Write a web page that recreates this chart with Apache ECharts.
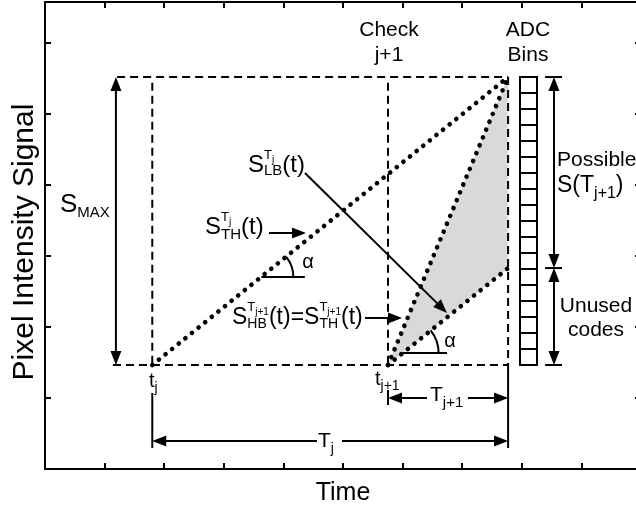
<!DOCTYPE html>
<html><head><meta charset="utf-8">
<script src="https://cdn.jsdelivr.net/npm/echarts@6/dist/echarts.min.js"></script>
<style>html,body{margin:0;padding:0;background:#fff}#c{width:636px;height:508px}</style>
</head><body><div id="c"></div>
<script>
// ---------- axis frame (ticks only, no labels) ----------
const xMin = 0, xMax = 10, xInterval = 1;
const yMin = 0, yMax = 6.577, yInterval = 1;
const xAxisName = 'Time';
const yAxisName = 'Pixel Intensity Signal';

// ---------- key times / signal levels (data units) ----------
const tJ = 1.80, tJ1 = 5.755, tEnd = 7.77;
const sLow = 1.465, sHigh = 5.52, sSplit = 2.83;
const adcLeft = 7.97, adcRight = 8.255, adcBinCount = 18;
const sideArrowX = 8.54, sideBarL = 8.39, sideBarR = 8.675;
const smaxX = 1.19;

// dotted signal ramps [x1,y1,x2,y2]
const dottedSegments = [
  [tJ, sLow, tEnd, sHigh],
  [tJ1, sLow, tEnd, sHigh],
  [tJ1, sLow, tEnd, sSplit]
];
// shaded region between ramps
const shadedRegion = [[tJ1, sLow], [tEnd, sHigh], [tEnd, sSplit]];

const dashedSegments = [
  [1.14, sLow, tEnd, sLow],
  [1.21, sHigh, tEnd, sHigh],
  [tJ, 5.44, tJ, sLow],
  [tJ1, 5.44, tJ1, sLow],
  [tEnd, sHigh, tEnd, sLow]
];
const solidSegments = [
  [tJ, 1.07, tJ, 0.296],
  [tEnd, sLow, tEnd, 0.296],
  [tJ1, 1.113, tJ1, 0.901],
  [3.63, 2.704, 4.36, 2.704],
  [6.0, 1.634, 6.745, 1.634],
  [sideBarL, sHigh, sideBarR, sHigh],
  [sideBarL, sSplit, sideBarR, sSplit],
  [sideBarL, sLow, sideBarR, sLow]
];
const arrowSegments = [
  [4.362, 4.169, 6.745, 2.197],
  [3.758, 3.324, 4.379, 3.324],
  [5.369, 2.127, 5.990, 2.127],
  [4.564, 0.394, tJ, 0.394],
  [4.983, 0.394, tEnd, 0.394],
  [6.409, 1.0, tJ1, 1.0],
  [7.097, 1.0, tEnd, 1.0]
];
const doubleArrowSegments = [
  [smaxX, sLow, smaxX, sHigh],
  [sideArrowX, sSplit, sideArrowX, sHigh],
  [sideArrowX, sLow, sideArrowX, sSplit]
];
// angle marks: vertex [x,y] and the ramp index they measure
const alphaVertexX = [3.63, 6.0];
const alphaVertexY = [2.704, 1.634];
const alphaRamp = [0, 2];

// text annotations: anchor x, anchor y (baseline)
const labelX = [5.772, 5.772, 8.104, 8.104, 8.591, 8.591, 9.245, 9.245, 1.745, 5.537, 4.58, 6.46, 0.25, 3.406, 2.685, 3.138, 4.413, 6.795];
const labelY = [6.085, 5.732, 6.085, 5.732, 4.254, 3.887, 2.197, 1.859, 1.155, 1.183, 0.296, 0.944, 3.606, 4.169, 3.296, 2.028, 2.831, 1.718];

// ---------- styling ----------
const FAM = "'Liberation Sans', Arial, Helvetica, sans-serif";
const sup = (a, b) => [{t: a, s: 13, dy: -14}, {t: b, s: 10, dy: -10}];
const labelFormat = [
  {c: 1, k: [{t: 'Check', s: 21}]},
  {c: 1, k: [{t: 'j+1', s: 21}]},
  {c: 1, k: [{t: 'ADC', s: 21}]},
  {c: 1, k: [{t: 'Bins', s: 21}]},
  {c: 0, k: [{t: 'Possible', s: 21}]},
  {c: 0, k: [{t: 'S(T', s: 23}, {t: 'j+1', s: 16, dy: 5}, {t: ')', s: 23}]},
  {c: 1, k: [{t: 'Unused', s: 21}]},
  {c: 1, k: [{t: 'codes', s: 21}]},
  {c: 0, k: [{t: 't', s: 20}, {t: 'j', s: 14, dy: 5}]},
  {c: 0, k: [{t: 't', s: 20}, {t: 'j+1', s: 14, dy: 5}]},
  {c: 0, k: [{t: 'T', s: 21}, {t: 'j', s: 14, dy: 5}]},
  {c: 0, k: [{t: 'T', s: 21}, {t: 'j+1', s: 15, dy: 5}]},
  {c: 0, k: [{t: 'S', s: 26}, {t: 'MAX', s: 15, dy: 4}]},
  {c: 0, k: [{t: 'S', s: 24}, {stack: [[{t: 'LB', s: 15, dy: 2}], sup('T', 'j')]}, {t: '(t)', s: 24}]},
  {c: 0, k: [{t: 'S', s: 24}, {stack: [[{t: 'TH', s: 15, dy: 4}], sup('T', 'j')]}, {t: '(t)', s: 24}]},
  {c: 0, k: [{t: 'S', s: 23}, {stack: [[{t: 'HB', s: 14, dy: 3}], sup('T', 'j+1')]}, {t: '(t)=S', s: 23},
             {stack: [[{t: 'TH', s: 14, dy: 3}], sup('T', 'j+1')]}, {t: '(t)', s: 23}]},
  {c: 1, k: [{t: 'α', s: 20}]},
  {c: 1, k: [{t: 'α', s: 20}]}
];

const mctx = document.createElement('canvas').getContext('2d');
function tw(t, s) { mctx.font = s + 'px ' + FAM; return mctx.measureText(t).width; }
function layout(seq, x0, out) {
  let x = x0;
  for (const tk of seq) {
    if (tk.stack) {
      let mx = x;
      for (const sub of tk.stack) { const e = layout(sub, x, out); if (e > mx) mx = e; }
      x = mx;
    } else {
      out.push({t: tk.t, s: tk.s, x: x, dy: tk.dy || 0});
      x += tw(tk.t, tk.s);
    }
  }
  return x;
}

const BLACK = '#000';
function head(tip, from, len, half) {
  const dx = tip[0] - from[0], dy = tip[1] - from[1];
  const L = Math.hypot(dx, dy) || 1, ux = dx / L, uy = dy / L;
  const bx = tip[0] - ux * len, by = tip[1] - uy * len;
  return {type: 'polygon', shape: {points: [tip, [bx - uy * half, by + ux * half], [bx + uy * half, by - ux * half]]}, style: {fill: BLACK}};
}
function shorten(p, q, d) {
  const dx = q[0] - p[0], dy = q[1] - p[1], L = Math.hypot(dx, dy) || 1;
  return [p[0] + dx / L * d, p[1] + dy / L * d];
}
function segSeries(name, data, kind, z) {
  return {
    type: 'custom', name, coordinateSystem: 'cartesian2d', data, z: z, clip: false, silent: true, animation: false,
    encode: {x: [0, 2], y: [1, 3]},
    renderItem(params, api) {
      let p1 = api.coord([api.value(0), api.value(1)]);
      let p2 = api.coord([api.value(2), api.value(3)]);
      const children = [];
      let a = p1, b = p2;
      const style = {stroke: BLACK, lineWidth: 2, fill: null};
      if (kind === 'dashed') style.lineDash = [8, 5];
      if (kind === 'dotted') { style.lineDash = [0.1, 8.4]; style.lineWidth = 4.6; style.lineCap = 'round'; }
      if (kind === 'arrow' || kind === 'double') { b = shorten(p2, p1, 8); children.push(head(p2, p1, 14, 5.5)); }
      if (kind === 'double') { a = shorten(p1, p2, 8); children.push(head(p1, p2, 14, 5.5)); }
      children.unshift({type: 'line', shape: {x1: a[0], y1: a[1], x2: b[0], y2: b[1]}, style});
      return {type: 'group', children};
    }
  };
}

const binData = [];
for (let i = 0; i < adcBinCount; i++) binData.push([adcLeft, sLow + (sHigh - sLow) * i / adcBinCount, adcRight, sLow + (sHigh - sLow) * (i + 1) / adcBinCount]);

const chart = echarts.init(document.getElementById('c'), null, {renderer: 'canvas'});
const axisCommon = {
  type: 'value', axisLine: {show: true, onZero: false, lineStyle: {color: BLACK, width: 2}},
  axisTick: {show: true, inside: true, length: 6, lineStyle: {color: BLACK, width: 2}},
  axisLabel: {show: false}, splitLine: {show: false}
};
chart.setOption({
  backgroundColor: '#fff',
  animation: false,
  grid: {left: 45, top: 2, width: 596, height: 467, containLabel: false, outerBoundsMode: 'none'},
  xAxis: [
    Object.assign({}, axisCommon, {position: 'bottom', min: xMin, max: xMax, interval: xInterval,
      name: xAxisName, nameLocation: 'middle', nameGap: 12,
      nameTextStyle: {fontSize: 25, color: BLACK, fontFamily: FAM}}),
    Object.assign({}, axisCommon, {position: 'top', min: xMin, max: xMax, interval: xInterval})
  ],
  yAxis: [
    Object.assign({}, axisCommon, {position: 'left', min: yMin, max: yMax, interval: yInterval,
      name: yAxisName, nameLocation: 'middle', nameGap: 5,
      nameTextStyle: {fontSize: 30, color: BLACK, fontFamily: FAM, padding: [0, 13, 0, 0]}}),
    Object.assign({}, axisCommon, {position: 'right', min: yMin, max: yMax, interval: yInterval})
  ],
  series: [
    {
      type: 'custom', name: 'shade', coordinateSystem: 'cartesian2d', data: [0], z: 1, clip: false, silent: true,
      encode: {x: 0},
      renderItem(params, api) {
        return {type: 'polygon', shape: {points: shadedRegion.map(p => api.coord(p))}, style: {fill: '#d9d9d9'}};
      }
    },
    segSeries('dotted', dottedSegments, 'dotted', 3),
    segSeries('dashed', dashedSegments, 'dashed', 2),
    segSeries('solid', solidSegments, 'solid', 4),
    segSeries('arrow', arrowSegments, 'arrow', 4),
    segSeries('double', doubleArrowSegments, 'double', 4),
    {
      type: 'custom', name: 'adc bins', coordinateSystem: 'cartesian2d', data: binData, z: 4, clip: false, silent: true,
      encode: {x: [0, 2], y: [1, 3]},
      renderItem(params, api) {
        const p1 = api.coord([api.value(0), api.value(1)]);
        const p2 = api.coord([api.value(2), api.value(3)]);
        return {type: 'rect', shape: {x: p1[0], y: p2[1], width: p2[0] - p1[0], height: p1[1] - p2[1]},
          style: {fill: '#fff', stroke: BLACK, lineWidth: 2}};
      }
    },
    {
      type: 'custom', name: 'alpha', coordinateSystem: 'cartesian2d',
      data: alphaVertexX.map((x, i) => [x, alphaVertexY[i], alphaRamp[i]]), z: 4, clip: false, silent: true,
      encode: {x: 0, y: 1},
      renderItem(params, api) {
        const v = api.coord([api.value(0), api.value(1)]);
        const r = dottedSegments[api.value(2)];
        const a = api.coord([r[0], r[1]]), b = api.coord([r[2], r[3]]);
        const ang = Math.atan2(b[1] - a[1], b[0] - a[0]);
        const rad = params.dataIndex === 0 ? 32 : 36;
        return {type: 'arc', shape: {cx: v[0], cy: v[1], r: rad, startAngle: ang, endAngle: 0, clockwise: true},
          style: {stroke: BLACK, lineWidth: 2, fill: null}};
      }
    },
    {
      type: 'custom', name: 'labels', coordinateSystem: 'cartesian2d',
      data: labelX.map((x, i) => [x, labelY[i]]), z: 6, clip: false, silent: true,
      encode: {x: 0, y: 1},
      renderItem(params, api) {
        const p = api.coord([api.value(0), api.value(1)]);
        const f = labelFormat[params.dataIndex];
        const toks = [];
        const w = layout(f.k, 0, toks);
        const off = f.c ? -w / 2 : 0;
        return {type: 'group', children: toks.map(tk => ({
          type: 'text', x: p[0] + tk.x + off, y: p[1] + tk.dy - tk.s * 0.3,
          style: {text: tk.t, font: tk.s + 'px ' + FAM, fill: BLACK, align: 'left', verticalAlign: 'middle'}
        }))};
      }
    }
  ]
});
</script>
</body></html>
